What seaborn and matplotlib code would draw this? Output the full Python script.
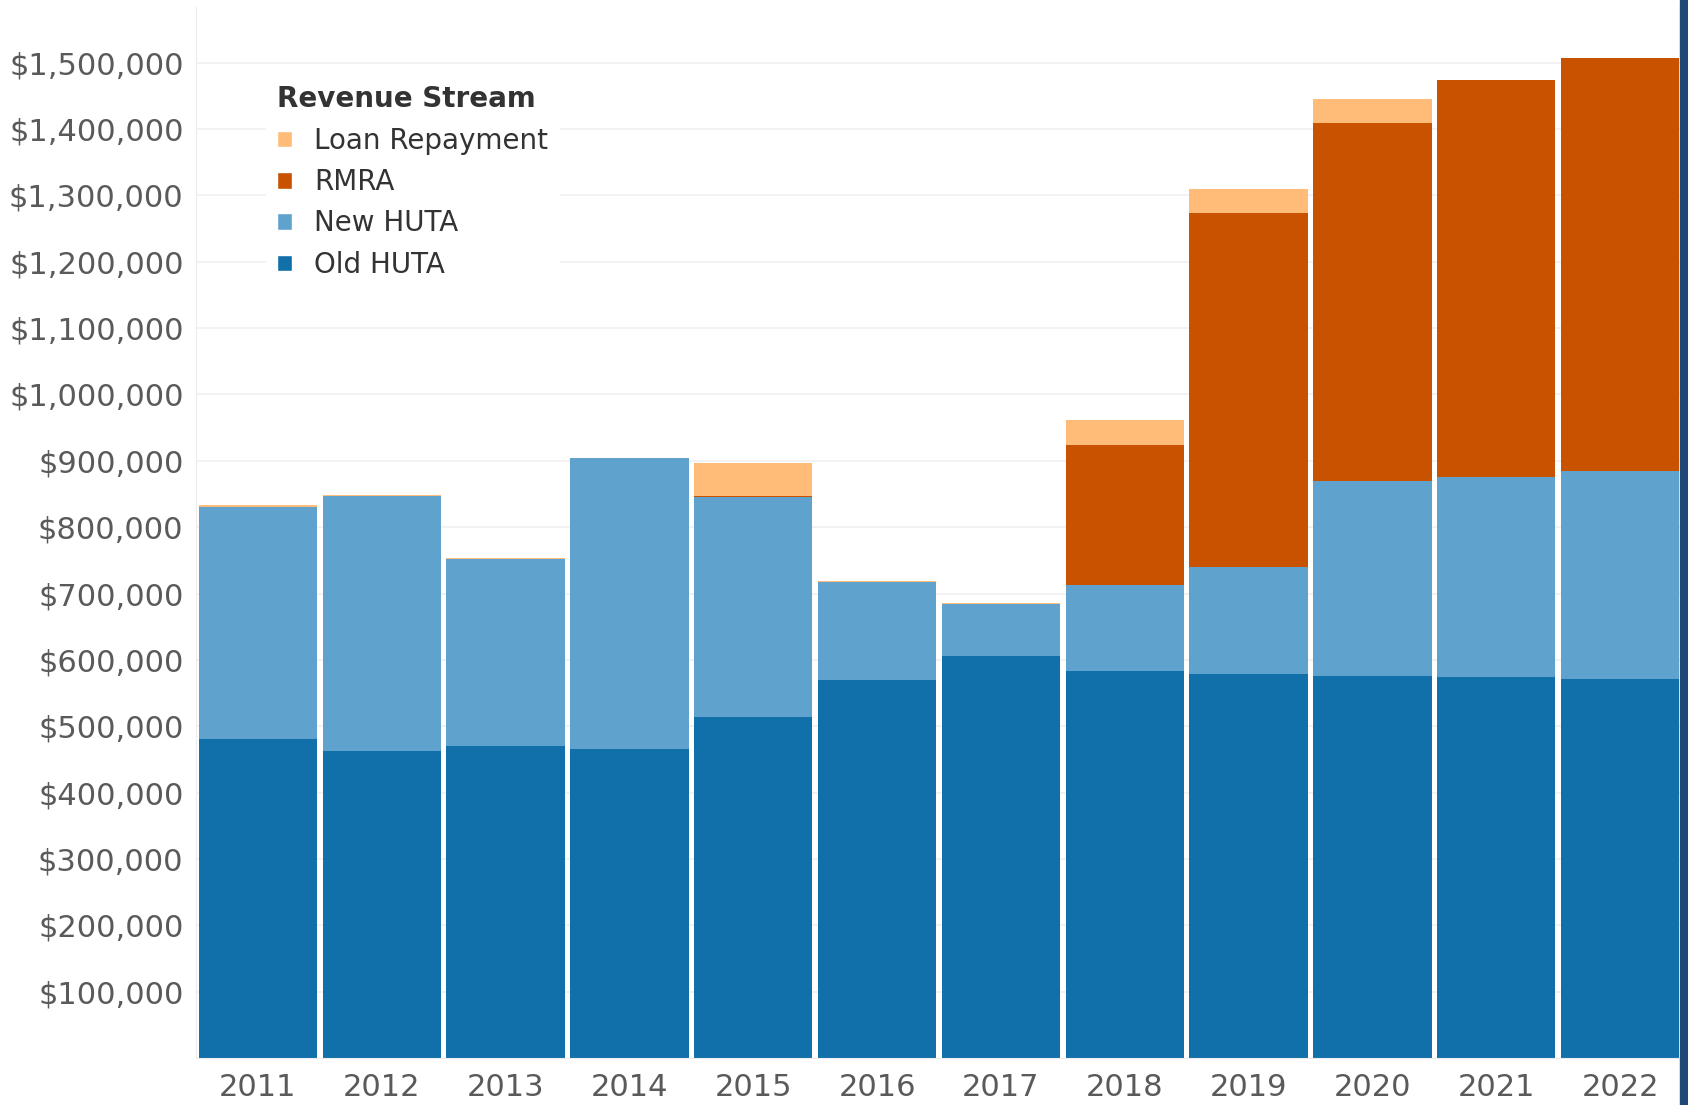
import matplotlib
matplotlib.use("Agg")
import matplotlib.pyplot as plt
from matplotlib.patches import Patch, Rectangle
from matplotlib.ticker import FuncFormatter
import seaborn as sns
import pandas as pd

years = ["2011", "2012", "2013", "2014", "2015", "2016",
         "2017", "2018", "2019", "2020", "2021", "2022"]
old_huta = [480300, 462600, 470700, 466000, 514400, 569700,
            606300, 583300, 578700, 575700, 574200, 570600]
new_huta = [350200, 383900, 281800, 437700, 331100, 147500,
            77400, 129700, 160700, 293900, 301500, 314400]
rmra = [0, 0, 0, 0, 2000, 0,
        0, 211000, 534100, 540100, 598300, 622600]
loan_repayment = [2500, 1500, 1500, 1000, 49500, 1500,
                  1500, 38000, 36500, 36300, 0, 0]

streams = ["Loan Repayment", "RMRA", "New HUTA", "Old HUTA"]
colors = {"Loan Repayment": "#ffbc79", "RMRA": "#c85200",
          "New HUTA": "#5fa2ce", "Old HUTA": "#1170aa"}

df = pd.DataFrame({"year": years, "Old HUTA": old_huta, "New HUTA": new_huta,
                   "RMRA": rmra, "Loan Repayment": loan_repayment})
# running totals so the stack can be drawn by overplotting, tallest first
df["c_old"] = df["Old HUTA"]
df["c_new"] = df["c_old"] + df["New HUTA"]
df["c_rmra"] = df["c_new"] + df["RMRA"]
df["c_loan"] = df["c_rmra"] + df["Loan Repayment"]

sns.set_style("white")
plt.rcParams["font.family"] = ["DejaVu Sans"]

fig = plt.figure(figsize=(16.88, 11.05), dpi=100)
ax = fig.add_axes([196 / 1688, 47 / 1105, 1486 / 1688, 1051 / 1105])

for col, s in [("c_loan", "Loan Repayment"), ("c_rmra", "RMRA"),
               ("c_new", "New HUTA"), ("c_old", "Old HUTA")]:
    sns.barplot(data=df, x="year", y=col, color=colors[s], saturation=1,
                width=0.955, errorbar=None, linewidth=0, ax=ax)

ax.set_xlim(-0.5, 11.5)
ax.set_ylim(0, 1584000)
ax.set_yticks(range(100000, 1600000, 100000))
ax.yaxis.set_major_formatter(FuncFormatter(lambda v, p: f"${v:,.0f}"))
ax.set_xlabel("")
ax.set_ylabel("")
ax.yaxis.grid(True, color="#f0f0f0", linewidth=1.2)
ax.set_axisbelow(True)
for side in ["top", "right"]:
    ax.spines[side].set_visible(False)
for side in ["left", "bottom"]:
    ax.spines[side].set_color("#ececec")
ax.tick_params(axis="both", length=0, labelsize=22, labelcolor="#5a5a5a")
ax.tick_params(axis="y", pad=9)
ax.tick_params(axis="x", pad=11)

handles = [Patch(facecolor=colors[s], label=s) for s in streams]
leg = ax.legend(handles=handles, title="Revenue Stream", loc="upper left",
                bbox_to_anchor=(0.047, 0.936), borderaxespad=0, frameon=True,
                facecolor="white", edgecolor="none", framealpha=1,
                fontsize=20, title_fontsize=20, handlelength=0.55,
                handleheight=0.55, handletextpad=0.8, labelspacing=0.48,
                alignment="left", borderpad=0.4)
leg.get_title().set_fontweight("bold")
leg.get_title().set_color("#333333")
for t in leg.get_texts():
    t.set_color("#333333")

# dark strip along the right edge
fig.add_artist(Rectangle((1680 / 1688, 0), 8 / 1688, 1, transform=fig.transFigure,
                         color="#1f4878", zorder=5))

plt.savefig("out.png", dpi=100)
